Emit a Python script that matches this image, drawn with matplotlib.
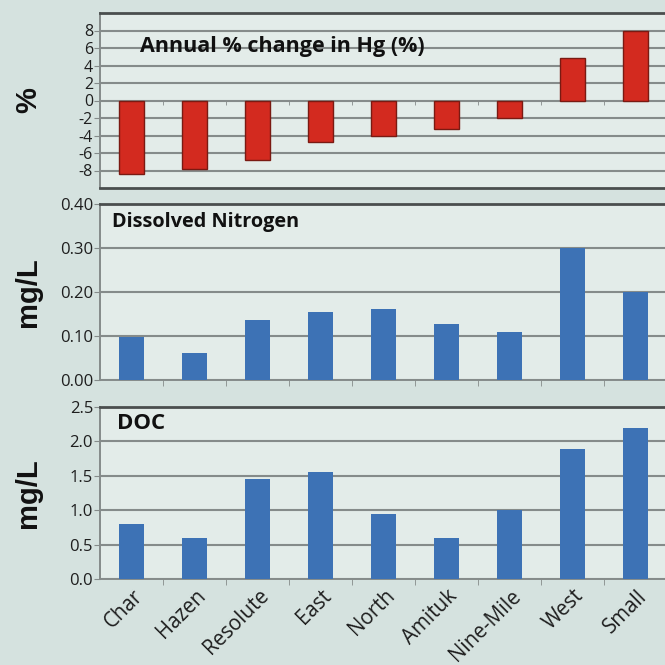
import matplotlib
matplotlib.use("Agg")

import matplotlib.pyplot as plt
import matplotlib.transforms as mtransforms
import numpy as np

# lakes and values
lakes = ["Char", "Hazen", "Resolute", "East", "North", "Amituk", "Nine-Mile", "West", "Small"]
hg_change = [-8.4, -7.8, -6.75, -4.75, -4.1, -3.2, -1.95, 4.85, 8.0]
dissolved_n = [0.097, 0.061, 0.136, 0.155, 0.162, 0.128, 0.110, 0.301, 0.200]
doc = [0.80, 0.60, 1.45, 1.55, 0.95, 0.60, 1.00, 1.89, 2.20]

hg_ticks = [-8, -6, -4, -2, 0, 2, 4, 6, 8]
dn_ticks = [0.0, 0.1, 0.2, 0.3, 0.4]
doc_ticks = [0.0, 0.5, 1.0, 1.5, 2.0, 2.5]

FIG_BG = "#d5e2df"
AX_BG = "#e3ece9"
RED = "#d32a1f"
RED_EDGE = "#7a1a12"
BLUE = "#3d72b5"
GRID = "#858b8a"
DARK = "#4a4e4e"
TXT = "#1e1e1e"

plt.rcParams["font.family"] = ["Open Sans", "DejaVu Sans"]

fig = plt.figure(figsize=(6.65, 6.65), dpi=100)
fig.patch.set_facecolor(FIG_BG)

W, H = 665.0, 665.0
left = 100 / W
width = 567 / W


def make_ax(top_px, bottom_px):
    return fig.add_axes([left, 1 - bottom_px / H, width, (bottom_px - top_px) / H])


ax1 = make_ax(13, 188)
ax2 = make_ax(204, 380)
ax3 = make_ax(407, 579)

x = np.arange(len(lakes))
bounds = np.arange(len(lakes) + 1) - 0.5

for ax in (ax1, ax2, ax3):
    ax.set_facecolor(AX_BG)
    ax.set_xlim(-0.5, len(lakes) - 0.5)
    ax.set_axisbelow(True)
    ax.grid(axis="y", color=GRID, linewidth=1.5)
    ax.spines["right"].set_visible(False)
    ax.spines["top"].set_color(DARK)
    ax.spines["top"].set_linewidth(2.0)
    ax.spines["left"].set_color(GRID)
    ax.spines["left"].set_linewidth(1.4)
    ax.spines["bottom"].set_color(GRID)
    ax.spines["bottom"].set_linewidth(1.4)
    ax.tick_params(axis="y", direction="out", length=4, color=GRID,
                   labelsize=12, labelcolor=TXT, pad=1)
    ax.set_xticks(x)
    ax.set_xticks(bounds[1:-1], minor=True)
    ax.tick_params(axis="x", which="major", length=0)
    ax.tick_params(axis="x", which="minor", direction="out", length=4, color=GRID)

# --- top: annual % change in Hg
ax1.bar(x, hg_change, width=0.41, color=RED, edgecolor=RED_EDGE, linewidth=1.0, zorder=3)
ax1.set_ylim(-10, 10)
ax1.set_yticks(hg_ticks)
ax1.set_yticklabels([str(t) for t in hg_ticks])
ax1.tick_params(axis="y", labelsize=11.5)
ax1.spines["bottom"].set_position(("data", 0))
ax1.axhline(-10, color=DARK, linewidth=2.0, clip_on=False, zorder=4)
ax1.set_xticklabels([])
ax1.tick_params(axis="x", which="minor", length=3)
ax1.text(0.0705, 0.81, "Annual % change in Hg (%)", transform=ax1.transAxes,
         fontsize=15.5, fontweight="bold", color="#111111", va="center", ha="left")

# --- middle: dissolved nitrogen
ax2.bar(x, dissolved_n, width=0.41, color=BLUE, zorder=3)
ax2.set_ylim(0, 0.4)
ax2.set_yticks(dn_ticks)
ax2.set_yticklabels([f"{t:.2f}" for t in dn_ticks])
ax2.set_xticklabels([])
ax2.text(0.021, 0.895, "Dissolved Nitrogen", transform=ax2.transAxes,
         fontsize=14.3, fontweight="bold", color="#111111", va="center", ha="left")

# --- bottom: DOC
ax3.bar(x, doc, width=0.41, color=BLUE, zorder=3)
ax3.set_ylim(0, 2.5)
ax3.set_yticks(doc_ticks)
ax3.set_yticklabels([f"{t:.1f}" for t in doc_ticks])
ax3.set_xticklabels(lakes, rotation=45, ha="right", va="center",
                    rotation_mode="anchor", fontsize=14.8, color=TXT)
ax3.tick_params(axis="x", which="major", pad=10)
shift = mtransforms.ScaledTranslation(8 / 100, 0, fig.dpi_scale_trans)
for lab in ax3.get_xticklabels():
    lab.set_transform(lab.get_transform() + shift)
ax3.text(0.03, 0.905, "DOC", transform=ax3.transAxes,
         fontsize=16, fontweight="bold", color="#111111", va="center", ha="left")

# y labels placed by hand, like the original figure
for ax, lab in ((ax1, "%"), (ax2, "mg/L"), (ax3, "mg/L")):
    pos = ax.get_position()
    fig.text(28 / W, pos.y0 + pos.height / 2, lab, rotation=90, ha="center", va="center",
             fontsize=21, fontweight="bold", color="#111111",
             family=["Liberation Sans", "DejaVu Sans"])

fig.savefig("out.png", dpi=100, facecolor=FIG_BG)
